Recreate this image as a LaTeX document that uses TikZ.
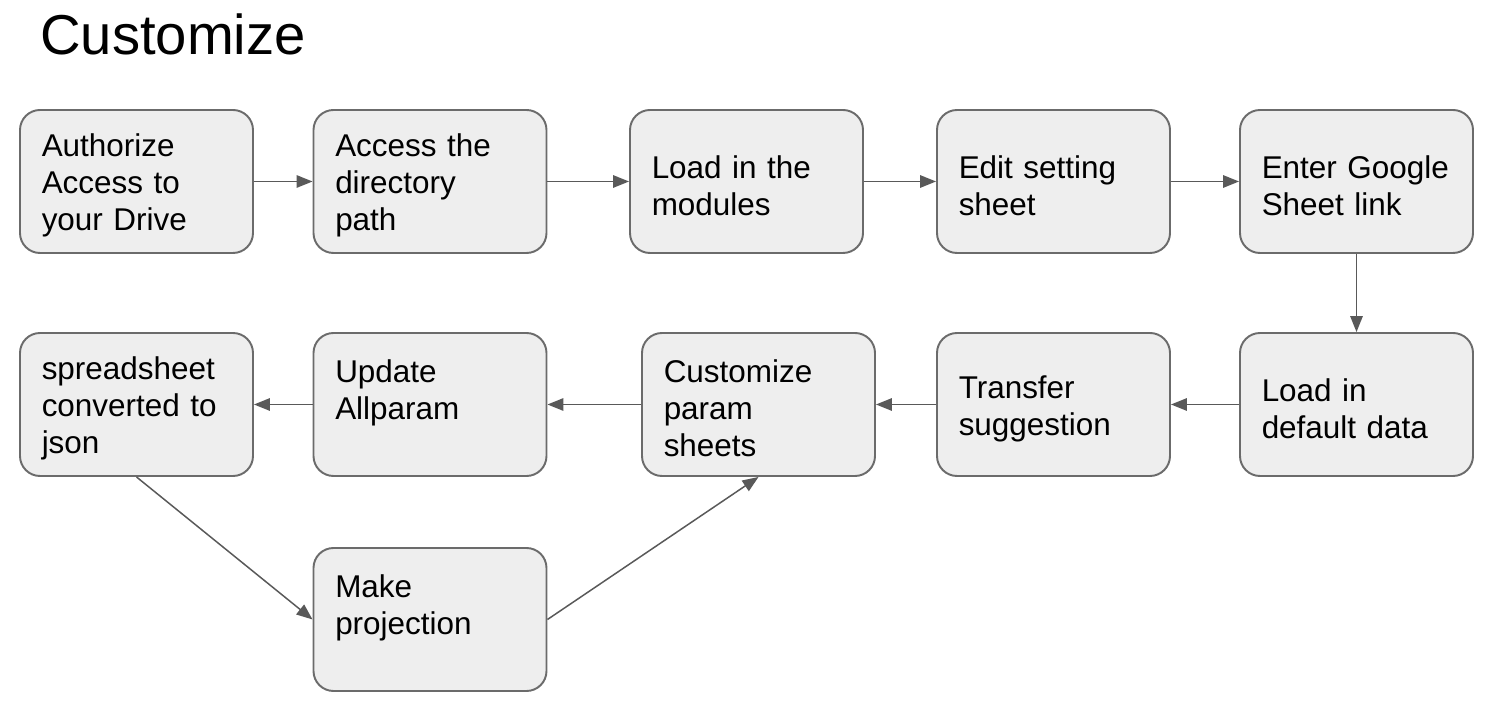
\documentclass[tikz,border=0pt]{standalone}
\usepackage{fontspec}
\setmainfont{Liberation Sans}
\usepackage{tikz}
\usetikzlibrary{arrows.meta}

\definecolor{boxfill}{HTML}{EEEEEE}
\definecolor{boxline}{HTML}{6B6B6B}
\definecolor{arrowline}{HTML}{595959}

\tikzset{
	stepbox/.style={draw=boxline, fill=boxfill, line width=1.1pt, rounded corners=0.4cm,
		minimum width=4.66cm, minimum height=2.86cm, text width=3.79cm, inner xsep=0.435cm,
		align=left, font=\fontsize{17.9pt}{21pt}\selectfont,
		execute at end node={\par\vspace*{-0.16cm}}},
	flow/.style={draw=arrowline, line width=0.85pt, -{Triangle[length=0.32cm,width=0.25cm]}}
}

\begin{document}
\begin{tikzpicture}
	\useasboundingbox (0,0) rectangle (29.92,-14.24);
	\node[anchor=base west, font=\fontsize{32pt}{38pt}\selectfont] (title) at (0.68,-1.10) {Customize};
	% top row
	\node[stepbox] (a1) at (2.73,-3.63) {Authorize\\Access to\\your Drive};
	\node[stepbox] (a2) at (8.60,-3.63) {Access the\\directory\\path};
	\node[stepbox] (a3) at (14.93,-3.63) {Load in the\\modules};
	\node[stepbox] (a4) at (21.07,-3.63) {Edit setting\\sheet};
	\node[stepbox] (a5) at (27.13,-3.63) {Enter Google\\Sheet link};
	% bottom row
	\node[stepbox] (b1) at (27.13,-8.09) {Load in\\default data};
	\node[stepbox] (b2) at (21.07,-8.09) {Transfer\\suggestion};
	\node[stepbox] (b3) at (15.17,-8.09) {Customize\\param\\sheets};
	\node[stepbox] (b4) at (8.60,-8.09) {Update\\Allparam\\\mbox{}};
	\node[stepbox] (b5) at (2.73,-8.09) {spreadsheet\\converted to\\json};
	\node[stepbox] (p1) at (8.60,-12.39) {Make\\projection\\\mbox{}};
	\draw [flow] (a1) -- (a2);
	\draw [flow] (a2) -- (a3);
	\draw [flow] (a3) -- (a4);
	\draw [flow] (a4) -- (a5);
	\draw [flow] (a5) -- (b1);
	\draw [flow] (b1) -- (b2);
	\draw [flow] (b2) -- (b3);
	\draw [flow] (b3) -- (b4);
	\draw [flow] (b4) -- (b5);
	\draw [flow] (b5.south) -- (p1.west);
	\draw [flow] (p1.east) -- (b3.south);
\end{tikzpicture}
\end{document}
